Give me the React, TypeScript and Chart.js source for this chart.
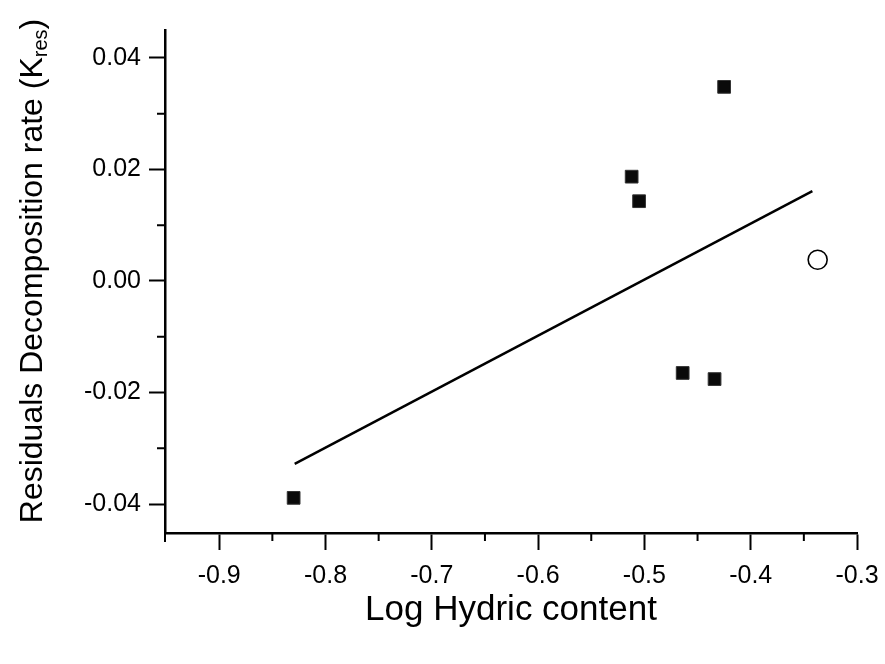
import React, { useEffect, useRef } from 'react';
import { Chart, registerables } from 'chart.js';

Chart.register(...registerables);

// Data
const squareX = [-0.83, -0.512, -0.505, -0.464, -0.434, -0.425];
const squareY = [-0.0389, 0.0187, 0.0143, -0.0165, -0.0176, 0.0348];
const circleX = [-0.337];
const circleY = [0.0038];
const fitX = [-0.829, -0.342];
const fitY = [-0.0328, 0.0161];

const xTickValues = [-0.9, -0.8, -0.7, -0.6, -0.5, -0.4, -0.3];
const xMinorValues = [-0.85, -0.75, -0.65, -0.55, -0.45, -0.35];
const yTickValues = [-0.04, -0.02, 0.0, 0.02, 0.04];
const yMinorValues = [-0.03, -0.01, 0.01, 0.03];

const xTitle = 'Log Hydric content';
const yTitleMain = 'Residuals Decomposition rate (K';
const yTitleSub = 'res';
const yTitleEnd = ')';

const FONT = "'Liberation Sans', Arial, sans-serif";

export default function App() {
  const ref = useRef<HTMLCanvasElement>(null);

  useEffect(() => {
    document.body.style.margin = '0';
    const canvas = ref.current;
    if (!canvas) return;

    const extras = {
      id: 'extras',
      afterDraw(chart: any) {
        const ctx = chart.ctx as CanvasRenderingContext2D;
        const xs = chart.scales.x;
        const ys = chart.scales.y;
        ctx.save();
        ctx.strokeStyle = '#000';
        ctx.lineWidth = 2;
        ctx.beginPath();
        for (const v of xMinorValues) {
          const px = xs.getPixelForValue(v);
          ctx.moveTo(px, xs.top);
          ctx.lineTo(px, xs.top + 8);
        }
        for (const v of yMinorValues) {
          const py = ys.getPixelForValue(v);
          ctx.moveTo(ys.right, py);
          ctx.lineTo(ys.right - 8, py);
        }
        // y axis line continues slightly below the x axis
        ctx.moveTo(ys.right, ys.bottom);
        ctx.lineTo(ys.right, ys.bottom + 9);
        ctx.stroke();

        // rotated y-axis title with subscript
        ctx.fillStyle = '#000';
        ctx.textBaseline = 'alphabetic';
        ctx.textAlign = 'left';
        const mainFont = `32px ${FONT}`;
        const subFont = `20px ${FONT}`;
        ctx.font = mainFont;
        const w1 = ctx.measureText(yTitleMain).width;
        const w3 = ctx.measureText(yTitleEnd).width;
        ctx.font = subFont;
        const w2 = ctx.measureText(yTitleSub).width;
        const total = w1 + w2 + w3;
        const cy = 271;
        ctx.translate(0, cy);
        ctx.rotate(-Math.PI / 2);
        const base = 42;
        let u = -total / 2;
        ctx.font = mainFont;
        ctx.fillText(yTitleMain, u, base);
        u += w1;
        ctx.font = subFont;
        ctx.fillText(yTitleSub, u, base + 5);
        u += w2;
        ctx.font = mainFont;
        ctx.fillText(yTitleEnd, u, base);
        ctx.restore();
      },
    };

    const chart = new Chart(canvas, {
      type: 'scatter',
      data: {
        datasets: [
          {
            label: 'fit',
            type: 'line',
            data: fitX.map((x, i) => ({ x, y: fitY[i] })),
            borderColor: '#000',
            borderWidth: 2.5,
            pointRadius: 0,
            fill: false,
            showLine: true,
          } as any,
          {
            label: 'squares',
            data: squareX.map((x, i) => ({ x, y: squareY[i] })),
            pointStyle: 'rect',
            pointRadius: 9,
            backgroundColor: '#0a0a0a',
            borderColor: '#333',
            borderWidth: 1,
          },
          {
            label: 'circle',
            data: circleX.map((x, i) => ({ x, y: circleY[i] })),
            pointStyle: 'circle',
            pointRadius: 9.5,
            backgroundColor: '#fff',
            borderColor: '#000',
            borderWidth: 1.6,
          },
        ],
      },
      options: {
        animation: false,
        responsive: false,
        maintainAspectRatio: false,
        layout: { padding: { top: 30, right: 28, left: 0, bottom: 0 } },
        plugins: {
          legend: { display: false },
          tooltip: { enabled: false },
        },
        scales: {
          x: {
            type: 'linear',
            min: -0.951,
            max: -0.3,
            afterBuildTicks: (scale: any) => {
              scale.ticks = xTickValues.map((v) => ({ value: v }));
            },
            afterFit: (scale: any) => {
              scale.height = 131;
              scale.paddingLeft = 0;
              scale.paddingRight = 0;
            },
            ticks: {
              color: '#000',
              font: { family: FONT, size: 25 },
              padding: 11,
              maxRotation: 0,
              autoSkip: false,
              callback: (v: any) => Number(v).toFixed(1),
            },
            grid: {
              drawOnChartArea: false,
              drawTicks: true,
              tickLength: 17,
              tickWidth: 2,
              tickColor: '#000',
              color: '#000',
            },
            border: { display: true, color: '#000', width: 2.5 },
            title: {
              display: true,
              text: xTitle,
              color: '#000',
              font: { family: FONT, size: 35 },
              padding: { top: 0, bottom: 33 },
            },
          },
          y: {
            type: 'linear',
            min: -0.0452,
            max: 0.045,
            afterBuildTicks: (scale: any) => {
              scale.ticks = yTickValues.map((v) => ({ value: v }));
            },
            afterFit: (scale: any) => {
              scale.width = 165;
              scale.paddingTop = 0;
              scale.paddingBottom = 0;
            },
            ticks: {
              color: '#000',
              font: { family: FONT, size: 25 },
              padding: 8,
              autoSkip: false,
              callback: (v: any) => Number(v).toFixed(2),
            },
            grid: {
              drawOnChartArea: false,
              drawTicks: true,
              tickLength: 16,
              tickWidth: 2,
              tickColor: '#000',
              color: '#000',
            },
            border: { display: true, color: '#000', width: 2.5 },
          },
        },
      },
      plugins: [extras],
    });

    return () => chart.destroy();
  }, []);

  return (
    <div style={{ width: 885, height: 664, position: 'relative', background: '#fff' }}>
      <canvas ref={ref} width={885} height={664} style={{ display: 'block' }} />
    </div>
  );
}
